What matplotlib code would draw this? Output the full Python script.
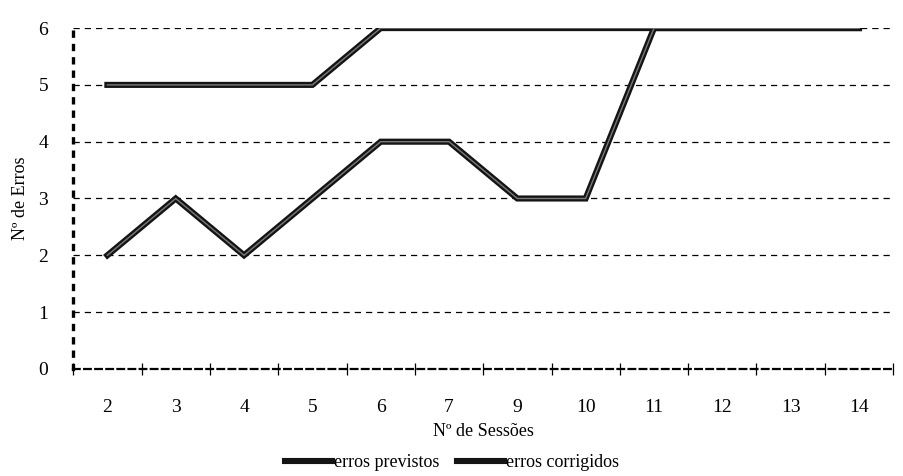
import numpy as np
import matplotlib.pyplot as plt
from matplotlib.lines import Line2D

# sessões e número de erros por sessão
sessoes = ['2', '3', '4', '5', '6', '7', '9', '10', '11', '12', '13', '14']
erros_previstos = [5, 5, 5, 5, 6, 6, 6, 6, 6, 6, 6, 6]
erros_corrigidos = [2, 3, 2, 3, 4, 4, 3, 3, 6, 6, 6, 6]

plt.rcParams['font.family'] = ['Liberation Serif', 'DejaVu Serif']

fig = plt.figure(figsize=(9.04, 4.76), dpi=100)
ax = fig.add_axes([0.081, 0.225, 0.907, 0.716])

x = np.arange(len(sessoes))

# grade tracejada
for nivel in range(1, 7):
    ax.axhline(nivel, color='black', lw=0.9, ls=(0, (5, 4)), zorder=1)


def linha_dupla(valores):
    # traço preto grosso com miolo cinzento
    ax.plot(x, valores, color='#141414', lw=4.4, solid_joinstyle='miter', zorder=3)
    ax.plot(x, valores, color='#7a7a7a', lw=1.0, solid_joinstyle='miter', zorder=4)


linha_dupla(erros_previstos)
linha_dupla(erros_corrigidos)

ax.set_xlim(-0.5, len(sessoes) - 0.5)
ax.set_ylim(0, 6)

for lado in ['top', 'right']:
    ax.spines[lado].set_visible(False)
ax.spines['left'].set_linestyle((0, (1.2, 2.8)))
ax.spines['left'].set_linewidth(2.4)
ax.spines['bottom'].set_linestyle((0, (3, 2)))
ax.spines['bottom'].set_linewidth(1.6)

ax.set_xticks(x)
ax.set_xticklabels(sessoes, fontsize=14)
ax.set_xticks(np.arange(-0.5, len(sessoes)), minor=True)
ax.tick_params(axis='x', which='major', length=0, pad=22)
ax.tick_params(axis='x', which='minor', direction='inout', length=8, width=0.9)
ax.set_yticks(range(0, 7))
ax.set_yticklabels([str(v) for v in range(0, 7)], fontsize=14)
ax.tick_params(axis='y', length=0, pad=18)

ax.set_xlabel('Nº de Sessões', fontsize=13, labelpad=5)
ax.set_ylabel('Nº de Erros', fontsize=13, labelpad=7)

# legenda abaixo do gráfico
amostra = [Line2D([0], [0], color='#141414', lw=4.4),
           Line2D([0], [0], color='#141414', lw=4.4)]
leg = fig.legend(amostra, ['erros previstos', 'erros corrigidos'],
                 loc='center', bbox_to_anchor=(0.5, 0.028), ncol=2,
                 frameon=False, fontsize=13, handlelength=2.6,
                 handletextpad=0.1, columnspacing=1.0)

fig.savefig('out.png', dpi=100)
